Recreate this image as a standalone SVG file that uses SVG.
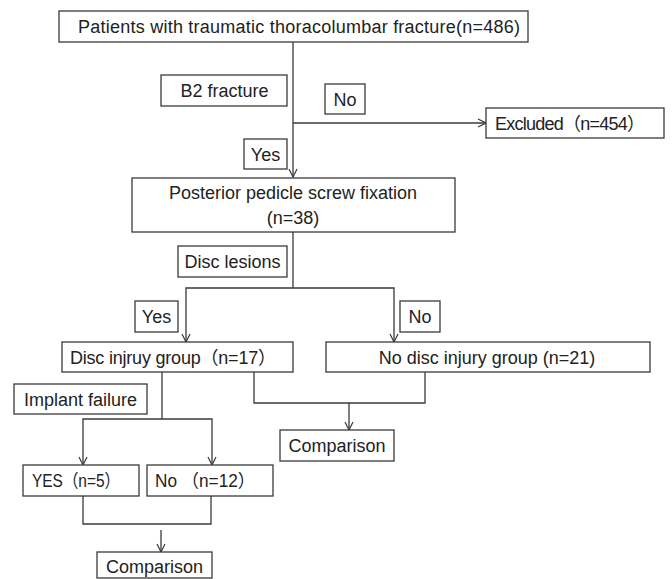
<svg xmlns="http://www.w3.org/2000/svg" width="672" height="579" viewBox="0 0 672 579">
<style>
  rect.box { fill: #ffffff; stroke: #3a3a3a; stroke-width: 1.3; }
  text { font-family: "Liberation Sans", "Noto Sans CJK SC", sans-serif; font-size: 18px; fill: #222222; }
  .c { text-anchor: middle; }
  .line { fill: none; stroke: #3a3a3a; stroke-width: 1.3; }
</style>
<defs>
  <marker id="arr" viewBox="0 0 10 10" refX="9" refY="5" markerWidth="10" markerHeight="10" markerUnits="userSpaceOnUse" orient="auto">
    <polyline points="1,1 9,5 1,9" fill="none" stroke="#3a3a3a" stroke-width="1.2"/>
  </marker>
</defs>
<rect width="672" height="579" fill="#ffffff"/>

<g id="connectors">
  <line class="line" x1="293" y1="42" x2="293" y2="177" marker-end="url(#arr)"/>
  <line class="line" x1="293" y1="123" x2="486" y2="123" marker-end="url(#arr)"/>
  <line class="line" x1="293" y1="232" x2="293" y2="288"/>
  <polyline class="line" points="293,288 186,288 186,342" marker-end="url(#arr)"/>
  <polyline class="line" points="293,288 394,288 394,342" marker-end="url(#arr)"/>
  <polyline class="line" points="254,372 254,403 425,403 425,372"/>
  <line class="line" x1="349" y1="403" x2="349" y2="430" marker-end="url(#arr)"/>
  <line class="line" x1="162" y1="372" x2="162" y2="419"/>
  <polyline class="line" points="162,419 83,419 83,465" marker-end="url(#arr)"/>
  <polyline class="line" points="162,419 212,419 212,465" marker-end="url(#arr)"/>
  <polyline class="line" points="83,496 83,524 211,524 211,496"/>
  <line class="line" x1="161" y1="530" x2="161" y2="552" marker-end="url(#arr)"/>
</g>

<g id="n-patients">
  <rect class="box" x="59" y="11" width="469" height="31"/>
  <text x="78" y="33" textLength="442" lengthAdjust="spacing">Patients with traumatic thoracolumbar fracture(n=486)</text>
</g>
<g id="n-b2">
  <rect class="box" x="161" y="75" width="126" height="31"/>
  <text class="c" x="224.5" y="97">B2 fracture</text>
</g>
<g id="n-no1">
  <rect class="box" x="325" y="84" width="40" height="30"/>
  <text class="c" x="345" y="106">No</text>
</g>
<g id="n-excluded">
  <rect class="box" x="486" y="108" width="178" height="30"/>
  <text x="495" y="130" textLength="150" lengthAdjust="spacing">Excluded（n=454）</text>
</g>
<g id="n-yes1">
  <rect class="box" x="244" y="139" width="43" height="30"/>
  <text class="c" x="265.5" y="161">Yes</text>
</g>
<g id="n-posterior">
  <rect class="box" x="132" y="178" width="323" height="54"/>
  <text class="c" x="293" y="199">Posterior pedicle screw fixation</text>
  <text class="c" x="293" y="224">(n=38)</text>
</g>
<g id="n-disc-lesions">
  <rect class="box" x="178" y="246" width="109" height="31"/>
  <text class="c" x="232.5" y="268">Disc lesions</text>
</g>
<g id="n-yes2">
  <rect class="box" x="135" y="301" width="43" height="31"/>
  <text class="c" x="156.5" y="323">Yes</text>
</g>
<g id="n-no2">
  <rect class="box" x="400" y="301" width="40" height="31"/>
  <text class="c" x="420" y="323">No</text>
</g>
<g id="n-disc-injury">
  <rect class="box" x="62" y="342" width="231" height="30"/>
  <text x="70" y="364" textLength="206" lengthAdjust="spacing">Disc injruy group（n=17）</text>
</g>
<g id="n-no-disc-injury">
  <rect class="box" x="326" y="342" width="324" height="30"/>
  <text class="c" x="487" y="364">No disc injury group (n=21)</text>
</g>
<g id="n-implant">
  <rect class="box" x="14" y="384" width="133" height="30"/>
  <text class="c" x="80.5" y="406">Implant failure</text>
</g>
<g id="n-comparison1">
  <rect class="box" x="280" y="430" width="114" height="31"/>
  <text class="c" x="337" y="452">Comparison</text>
</g>
<g id="n-yes5">
  <rect class="box" x="23" y="465" width="116" height="31"/>
  <text x="32" y="487" textLength="88" lengthAdjust="spacingAndGlyphs">YES（n=5）</text>
</g>
<g id="n-no12">
  <rect class="box" x="147" y="465" width="126" height="31"/>
  <text x="155" y="487" textLength="100" lengthAdjust="spacingAndGlyphs">No （n=12）</text>
</g>
<g id="n-comparison2">
  <rect class="box" x="97" y="552" width="115" height="26"/>
  <text class="c" x="154.5" y="573">Comparison</text>
</g>
</svg>
